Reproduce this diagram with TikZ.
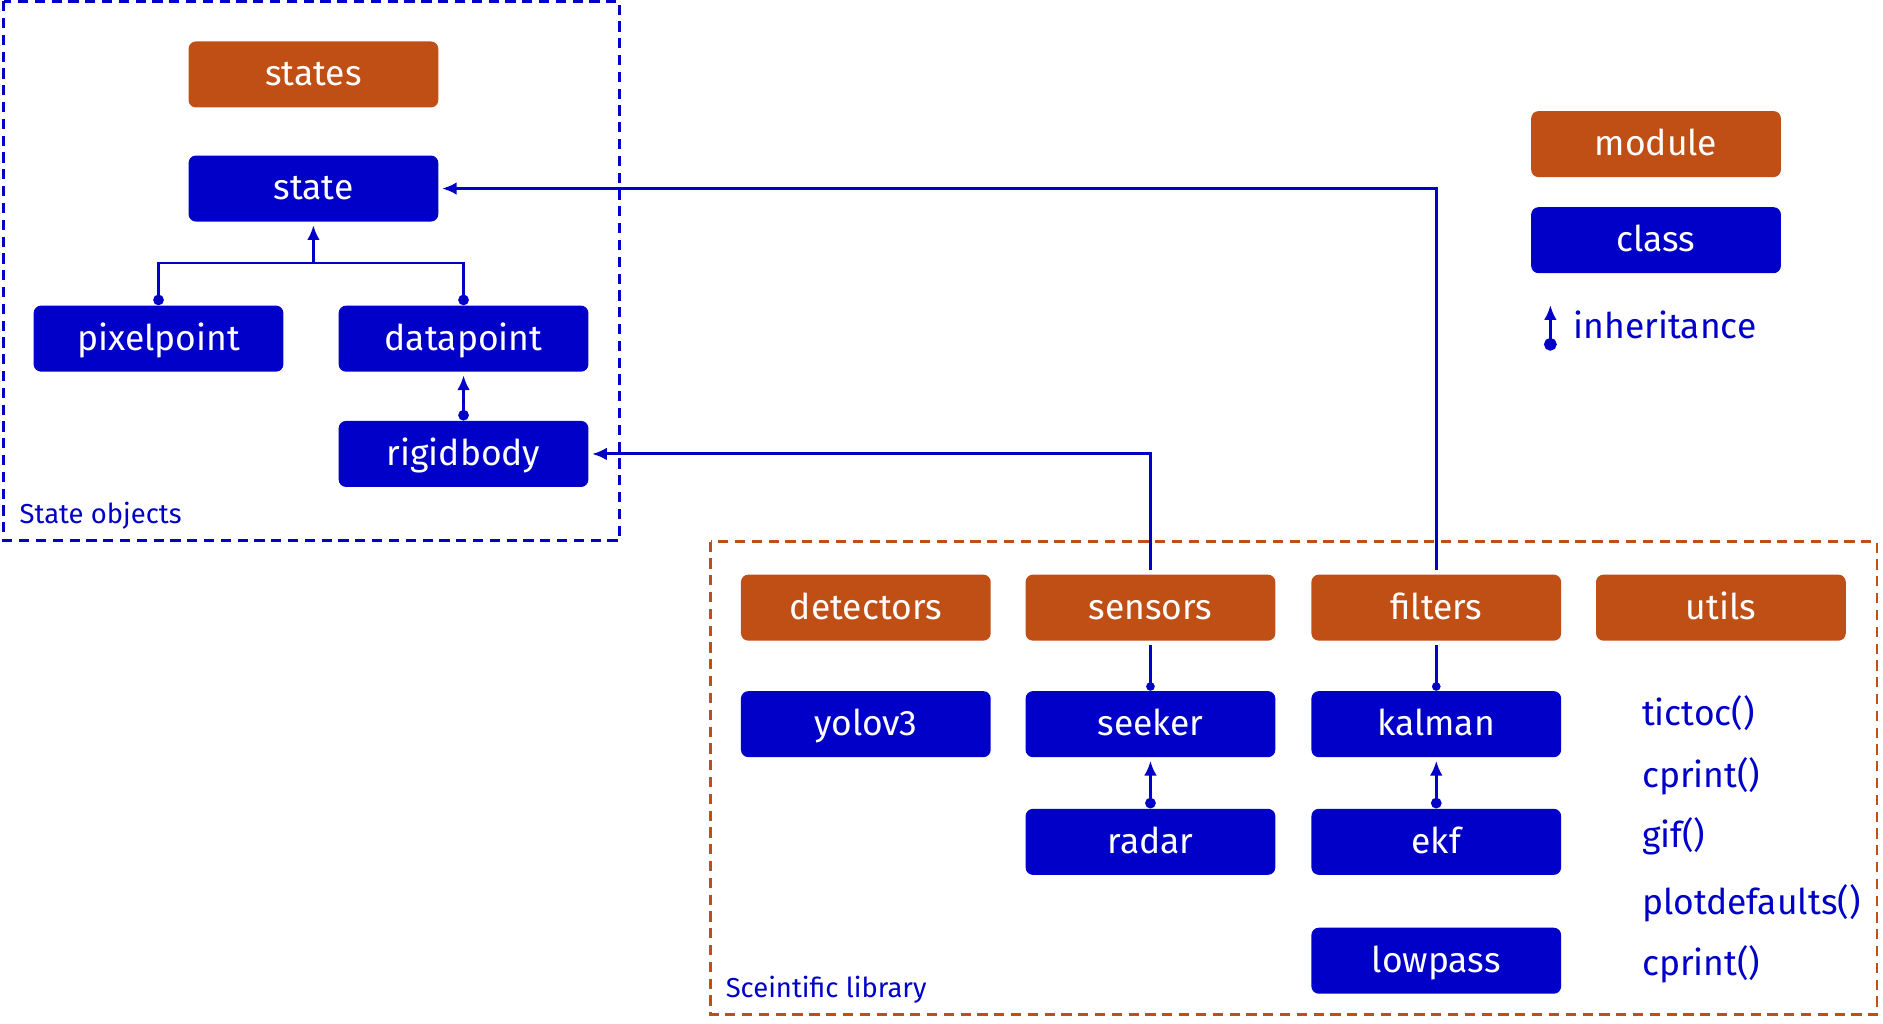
\documentclass[tikz,border=0pt]{standalone}
\usepackage{fontspec}
\setmainfont{Fira Sans}
\usetikzlibrary{arrows.meta,backgrounds}
\definecolor{clsblue}{RGB}{0,0,200}
\definecolor{modorange}{RGB}{192,79,21}

\begin{document}
\begin{tikzpicture}[x=0.02cm, y=-0.02cm,
    box/.style={rounded corners=3.5pt, minimum width=4.16cm, minimum height=1.1cm, inner sep=0pt,
      text=white, text height=1.2em, text depth=0.12em, font=\fontsize{16.8}{19}\selectfont},
    modbox/.style={box, fill=modorange},
    clsbox/.style={box, fill=clsblue},
    bluetext/.style={text=clsblue, inner sep=0pt, anchor=west, text height=1.2em, text depth=0.12em,
      font=\fontsize{16.8}{19}\selectfont},
    framelabel/.style={text=clsblue, inner sep=0pt, anchor=west, text height=1em, text depth=0.12em,
      font=\fontsize{13}{15}\selectfont},
    wire/.style={draw=clsblue, line width=1.4pt},
    inherit/.style={wire, {Circle[length=5pt]}-{Latex[length=7pt,width=6pt]}, shorten >=1.5pt},
    uses/.style={wire, -{Latex[length=7pt,width=6pt]}, shorten <=2pt, shorten >=1.5pt},
    frame/.style={line width=1.4pt, dash pattern=on 0.17cm off 0.11cm}]
  \useasboundingbox (0,0) rectangle (1568,852);

  % state objects
  \draw[frame, clsblue] (3,1) rectangle (516,450);
  \node[modbox] (states) at (261,62) {states};
  \node[clsbox] (state) at (261,157) {state};
  \node[clsbox] (pixelpoint) at (132,282) {pixelpoint};
  \node[clsbox] (datapoint) at (386,282) {datapoint};
  \node[clsbox] (rigidbody) at (386,378) {rigidbody};
  \node[framelabel] (stlabel) at (16,428) {State objects};

  % scientific library
  \draw[frame, modorange] (592,451) rectangle (1563,845);
  \node[modbox] (detectors) at (721,506) {detectors};
  \node[modbox] (sensors) at (958,506) {sensors};
  \node[modbox] (filters) at (1196,506) {filters};
  \node[modbox] (utils) at (1433,506) {utils};
  \node[clsbox] (yolov3) at (721,603) {yolov3};
  \node[clsbox] (seeker) at (958,603) {seeker};
  \node[clsbox] (kalman) at (1196,603) {kalman};
  \node[clsbox] (radar) at (958,701) {radar};
  \node[clsbox] (ekf) at (1196,701) {ekf};
  \node[clsbox] (lowpass) at (1196,800) {lowpass};
  \node[framelabel] (sclabel) at (604,823) {Sceintific library};

  % utils functions
  \node[bluetext] (tictoc) at (1367,595) {tictoc()};
  \node[bluetext] (cprinta) at (1367,646) {cprint()};
  \node[bluetext] (gif) at (1367,696) {gif()};
  \node[bluetext] (plotdef) at (1367,752) {plotdefaults()};
  \node[bluetext] (cprintb) at (1367,803) {cprint()};

  % legend
  \node[modbox] (legmodule) at (1379,120) {module};
  \node[clsbox] (legclass) at (1379,200) {class};
  \coordinate (legbot) at (1291,292);
  \coordinate (legtop) at (1291,254);
  \node[bluetext] (leginh) at (1310,272) {inheritance};

  \begin{scope}[on background layer]
    \coordinate (join) at (261,219);
    \draw[wire, {Circle[length=5pt]}-{Circle[length=5pt]}] (pixelpoint.north) |- (join) -| (datapoint.north);
    \draw[wire, -{Latex[length=7pt,width=6pt]}, shorten >=1.5pt] (join) -- (state.south);
    \draw[inherit] (rigidbody.north) -- (datapoint.south);
    \draw[inherit] (radar.north) -- (seeker.south);
    \draw[inherit] (ekf.north) -- (kalman.south);
    \draw[wire, -{Circle[length=4pt]}, shorten <=2pt] (sensors.south) -- (seeker.north);
    \draw[wire, -{Circle[length=4pt]}, shorten <=2pt] (filters.south) -- (kalman.north);
    \draw[uses] (sensors.north) |- (rigidbody.east);
    \draw[uses] (filters.north) |- (state.east);
    \draw[wire, {Circle[length=6pt]}-{Latex[length=7pt,width=6pt]}] (legbot) -- (legtop);
  \end{scope}
\end{tikzpicture}
\end{document}
